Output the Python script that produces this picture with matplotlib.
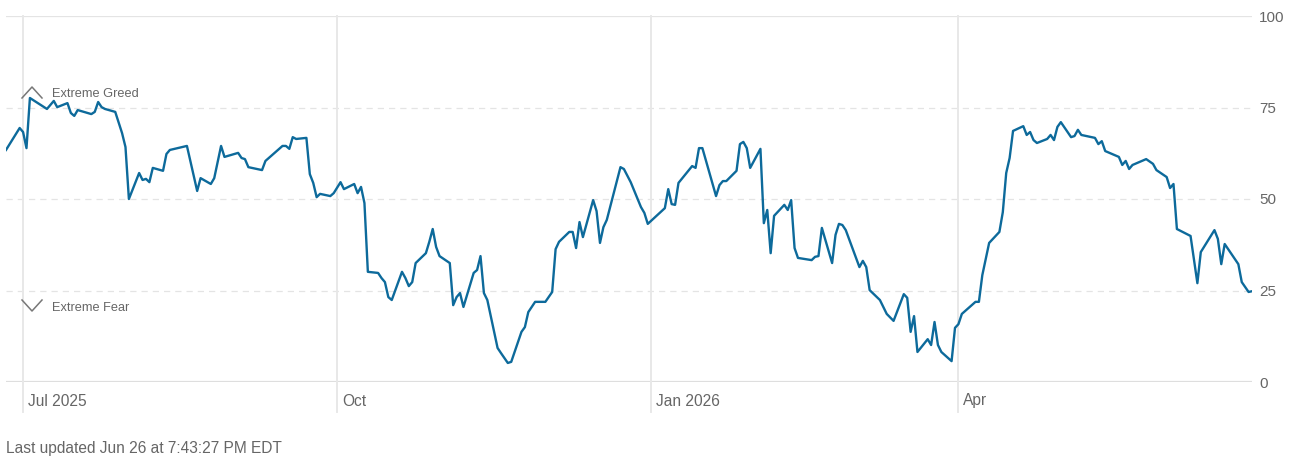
import matplotlib
matplotlib.use('Agg')
from matplotlib import pyplot as plt
from matplotlib.lines import Line2D
import matplotlib.transforms as mtransforms
import pandas as pd

plt.rcParams['font.family'] = ['Liberation Sans', 'DejaVu Sans']

# fear & greed index (trading days, some skipped)
dates = [
    '2025-06-26', '2025-06-30', '2025-07-01', '2025-07-02', '2025-07-03', '2025-07-08', '2025-07-10',
    '2025-07-11', '2025-07-14', '2025-07-15', '2025-07-16', '2025-07-17', '2025-07-21', '2025-07-22',
    '2025-07-23', '2025-07-24', '2025-07-25', '2025-07-28', '2025-07-30', '2025-07-31',
    '2025-08-01', '2025-08-04', '2025-08-05', '2025-08-06', '2025-08-07', '2025-08-08', '2025-08-11',
    '2025-08-12', '2025-08-13', '2025-08-18', '2025-08-21', '2025-08-22', '2025-08-25', '2025-08-26',
    '2025-08-28', '2025-08-29',
    '2025-09-02', '2025-09-03', '2025-09-04', '2025-09-05', '2025-09-09', '2025-09-10', '2025-09-15',
    '2025-09-16', '2025-09-17', '2025-09-18', '2025-09-19', '2025-09-22', '2025-09-23', '2025-09-24',
    '2025-09-25', '2025-09-26', '2025-09-29', '2025-09-30',
    '2025-10-02', '2025-10-03', '2025-10-06', '2025-10-07', '2025-10-08', '2025-10-09', '2025-10-10',
    '2025-10-13', '2025-10-14', '2025-10-15', '2025-10-16', '2025-10-17', '2025-10-20', '2025-10-21',
    '2025-10-22', '2025-10-23', '2025-10-24', '2025-10-27', '2025-10-28', '2025-10-29', '2025-10-30',
    '2025-10-31',
    '2025-11-03', '2025-11-04', '2025-11-05', '2025-11-06', '2025-11-07', '2025-11-10', '2025-11-11',
    '2025-11-12', '2025-11-13', '2025-11-14', '2025-11-17', '2025-11-18', '2025-11-20', '2025-11-21',
    '2025-11-24', '2025-11-25', '2025-11-26', '2025-11-28',
    '2025-12-01', '2025-12-03', '2025-12-04', '2025-12-05', '2025-12-08', '2025-12-09', '2025-12-10',
    '2025-12-11', '2025-12-12', '2025-12-15', '2025-12-16', '2025-12-17', '2025-12-18', '2025-12-19',
    '2025-12-23', '2025-12-24', '2025-12-26', '2025-12-29', '2025-12-30', '2025-12-31',
    '2026-01-05', '2026-01-06', '2026-01-07', '2026-01-08', '2026-01-09', '2026-01-13', '2026-01-14',
    '2026-01-15', '2026-01-16', '2026-01-20', '2026-01-21', '2026-01-22', '2026-01-23', '2026-01-26',
    '2026-01-27', '2026-01-28', '2026-01-29', '2026-01-30',
    '2026-02-02', '2026-02-03', '2026-02-04', '2026-02-05', '2026-02-06', '2026-02-09', '2026-02-10',
    '2026-02-11', '2026-02-12', '2026-02-13', '2026-02-17', '2026-02-18', '2026-02-19', '2026-02-20',
    '2026-02-23', '2026-02-24', '2026-02-25', '2026-02-26', '2026-02-27',
    '2026-03-03', '2026-03-04', '2026-03-05', '2026-03-06', '2026-03-09', '2026-03-11', '2026-03-13',
    '2026-03-16', '2026-03-17', '2026-03-18', '2026-03-19', '2026-03-20', '2026-03-23', '2026-03-24',
    '2026-03-25', '2026-03-26', '2026-03-27', '2026-03-30', '2026-03-31',
    '2026-04-01', '2026-04-02', '2026-04-06', '2026-04-07', '2026-04-08', '2026-04-10', '2026-04-13',
    '2026-04-14', '2026-04-15', '2026-04-16', '2026-04-17', '2026-04-20', '2026-04-21', '2026-04-22',
    '2026-04-23', '2026-04-24', '2026-04-27', '2026-04-28', '2026-04-29', '2026-04-30',
    '2026-05-01', '2026-05-04', '2026-05-05', '2026-05-06', '2026-05-07', '2026-05-11', '2026-05-12',
    '2026-05-13', '2026-05-14', '2026-05-18', '2026-05-19', '2026-05-20', '2026-05-21', '2026-05-22',
    '2026-05-26', '2026-05-28', '2026-05-29',
    '2026-06-01', '2026-06-02', '2026-06-03', '2026-06-04', '2026-06-08', '2026-06-10', '2026-06-11',
    '2026-06-15', '2026-06-16', '2026-06-17', '2026-06-18', '2026-06-22', '2026-06-23', '2026-06-25',
    '2026-06-26',
]
values = [
    63.4, 69.4, 68.3, 63.9, 77.6, 74.6, 76.8,
    75.1, 76.2, 73.5, 72.7, 74.3, 73.2, 73.8,
    76.5, 75.1, 74.6, 73.8, 68.0, 64.2,
    50.0, 57.1, 55.2, 55.5, 54.6, 58.5, 57.7,
    62.3, 63.4, 64.5, 52.2, 55.7, 54.1, 55.7,
    64.5, 61.5,
    62.6, 61.2, 60.9, 58.7, 57.9, 60.4, 64.5,
    64.5, 63.7, 66.9, 66.4, 66.7, 56.8, 54.4,
    50.5, 51.4, 50.8, 51.6,
    54.6, 52.7, 54.1, 51.6, 53.3, 48.9, 30.1,
    29.8, 28.4, 27.3, 23.2, 22.4, 30.1, 28.4,
    26.2, 27.3, 32.5, 35.2, 38.3, 41.8, 36.9,
    34.4,
    32.5, 21.0, 23.2, 24.3, 20.5, 29.8, 30.6,
    34.4, 24.3, 22.4, 9.3, 7.9, 5.2, 5.5,
    13.7, 15.0, 19.1, 21.9,
    21.9, 24.6, 36.3, 38.3, 41.0, 41.0, 36.6,
    43.7, 39.6, 49.7, 46.7, 38.0, 42.3, 44.3,
    58.7, 58.2, 54.6, 47.8, 46.2, 43.2,
    47.5, 52.7, 48.6, 48.4, 54.4, 59.0, 58.5,
    63.9, 63.9, 50.8, 53.8, 54.9, 54.9, 57.7,
    65.0, 65.6, 63.9, 58.5,
    63.7, 43.4, 47.0, 35.2, 45.4, 48.4, 47.0,
    49.7, 36.6, 33.9, 33.3, 34.2, 34.4, 42.1,
    32.5, 40.2, 43.2, 42.9, 41.5,
    31.4, 33.1, 31.4, 25.1, 22.4, 18.6, 16.7,
    24.0, 23.0, 13.7, 18.0, 8.2, 11.7, 10.1,
    16.4, 10.1, 8.2, 5.7, 14.8,
    15.8, 18.6, 21.9, 21.9, 29.2, 38.0, 41.0,
    46.4, 57.1, 61.2, 68.6, 69.9, 67.5, 68.3,
    66.1, 65.3, 66.4, 67.5, 66.1, 69.7,
    71.0, 66.9, 67.2, 68.9, 67.5, 66.7, 65.0,
    65.8, 63.1, 61.5, 59.3, 60.4, 58.2, 59.3,
    60.9, 59.6, 57.9,
    56.0, 53.0, 54.1, 41.8, 39.9, 27.0, 35.5,
    41.5, 39.1, 32.2, 37.7, 32.2, 27.3, 24.6,
    24.8,
]

month_ticks = ['2025-07-01', '2025-10-01', '2026-01-01', '2026-04-01']
month_labels = ['Jul 2025', 'Oct', 'Jan 2026', 'Apr']
y_ticks = [0, 25, 50, 75, 100]

x = pd.to_datetime(dates)

W, H = 1290, 458
fig = plt.figure(figsize=(W / 100, H / 100), dpi=100)
ax = fig.add_axes([6 / W, 1 - 382 / H, (1252 - 6) / W, 366 / H])

grid_c = '#e4e4e4'
text_c = '#666666'

# horizontal grid
for v in y_ticks:
    if v == 0:
        ax.axhline(v, color='#dedede', lw=1.6, zorder=1)
    elif v == 100:
        ax.axhline(v, color=grid_c, lw=0.9, zorder=1)
    else:
        ax.axhline(v, color=grid_c, lw=0.9, ls=(0, (5, 4)), zorder=1)

# vertical month lines, running a bit below the axis
for d in pd.to_datetime(month_ticks):
    ax.axvline(d, ymin=-30 / 366, ymax=1, color='#e8e8e8', lw=1.4, clip_on=False, zorder=1)

ax.plot(x, values, color='#0d6a9b', lw=1.7, zorder=3, solid_joinstyle='round')

ax.set_xlim(pd.Timestamp('2025-06-26'), pd.Timestamp('2026-06-26'))
ax.set_ylim(0, 100)
for s in ax.spines.values():
    s.set_visible(False)
ax.set_xticks([])
ax.yaxis.tick_right()
ax.set_yticks(y_ticks)
ax.set_yticklabels([str(v) for v in y_ticks])
ax.tick_params(axis='y', length=0, pad=5, labelsize=11, labelcolor=text_c)
for lab in ax.get_yticklabels():
    lab.set_horizontalalignment('left')

# month labels to the right of each line
trans = mtransforms.blended_transform_factory(ax.transData, ax.transAxes)
trans = mtransforms.offset_copy(trans, fig=fig, x=5, y=-19, units='dots')
for d, lab in zip(pd.to_datetime(month_ticks), month_labels):
    ax.text(d, 0, lab, transform=trans, ha='left', va='center', fontsize=11.2, color=text_c)

# extreme greed / fear markers
def fx(px):
    return px / W

def fy(py):
    return 1 - py / H

fig.add_artist(Line2D([fx(22), fx(32), fx(42)], [fy(98), fy(87), fy(98)], color='#777777', lw=1.1))
fig.add_artist(Line2D([fx(22), fx(32), fx(42)], [fy(300), fy(311), fy(300)], color='#777777', lw=1.1))
fig.text(fx(52), fy(94), 'Extreme Greed', fontsize=9.2, color=text_c, va='center', ha='left')
fig.text(fx(52), fy(308), 'Extreme Fear', fontsize=9.2, color=text_c, va='center', ha='left')

fig.text(fx(6), fy(449), 'Last updated Jun 26 at 7:43:27 PM EDT', fontsize=11.2, color=text_c,
         va='center', ha='left')

fig.savefig('out.png', dpi=100)
